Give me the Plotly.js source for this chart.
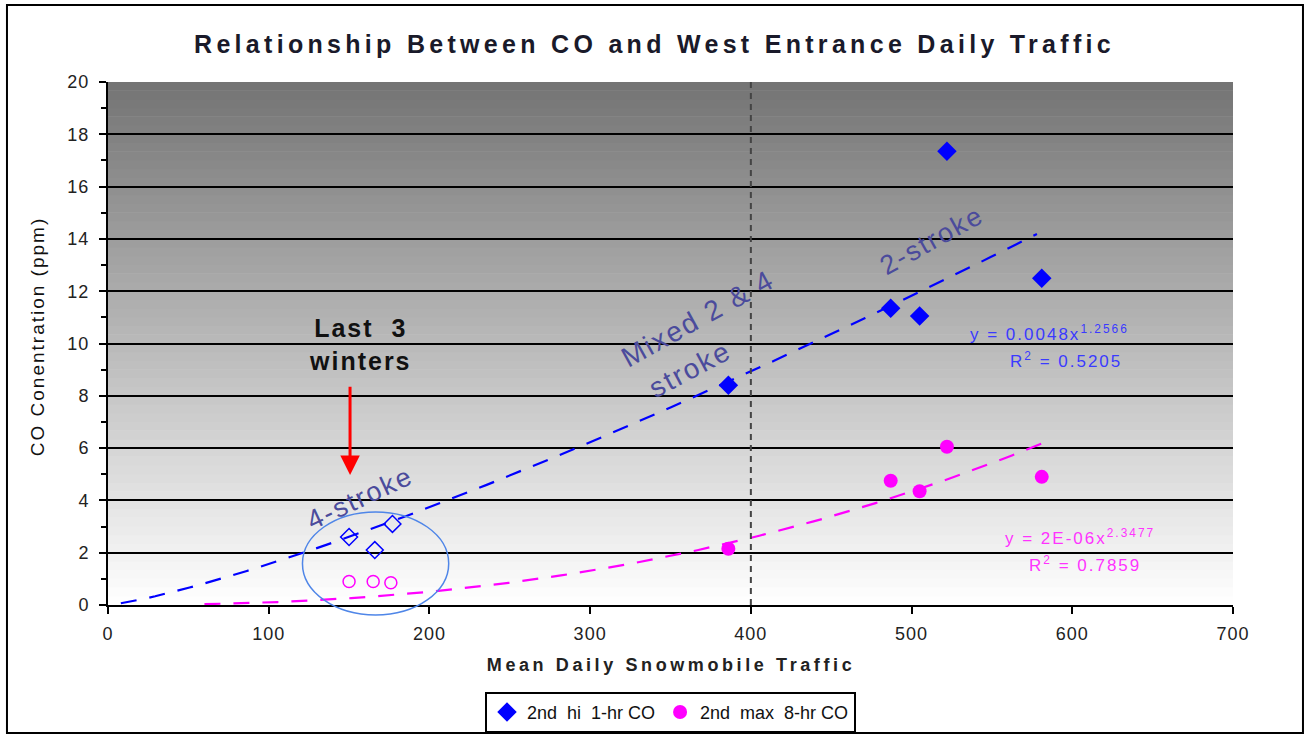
<!DOCTYPE html>
<html>
<head>
<meta charset="utf-8">
<script src="https://cdn.plot.ly/plotly-3.0.1.min.js"></script>
<style>
  html, body { margin: 0; padding: 0; background: #fff; }
  #chart { width: 1309px; height: 739px; }
  /* the reference uses wide, Excel-style letter spacing */
  #chart .gtitle { letter-spacing: 4.3px; }
  #chart .annotation-text { letter-spacing: 2px; }
  #chart .annotation[data-index="10"] .annotation-text { letter-spacing: 3.6px; }
  #chart .xtick text, #chart .ytick text { letter-spacing: 1px; }
</style>
</head>
<body>
<div id="chart"></div>
<script>
// ---- data ----
const hiTraffic = [386, 487, 505, 522, 581];
const hi1hrCO = [8.4, 11.35, 11.05, 17.35, 12.5];
const max8hrCO = [2.15, 4.75, 4.35, 6.05, 4.9];

// last 3 winters (4-stroke), open markers
const recentTraffic1hr = [150, 166, 177];
const recent1hrCO = [2.6, 2.1, 3.1];
const recentTraffic8hr = [150, 165, 176];
const recent8hrCO = [0.9, 0.9, 0.85];

// power trendlines shown on the chart: y = a * x^b
const trend1hr = { a: 0.0048, b: 1.2566, from: 8, to: 578, r2: 0.5205 };
const trend8hr = { a: 2e-6, b: 2.3477, from: 60, to: 582, r2: 0.7859 };

const yTicks = [0, 2, 4, 6, 8, 10, 12, 14, 16, 18, 20];
const xTicks = [0, 100, 200, 300, 400, 500, 600, 700];

const FONT = 'Liberation Sans, Arial, sans-serif';
const BLUE = '#0000ff';
const MAGENTA = '#ff00ff';
const LABEL = '#4b4b9c';

function trendCurve(t) {
  const xs = [], ys = [];
  const n = 80;
  for (let i = 0; i <= n; i++) {
    const x = t.from + (t.to - t.from) * i / n;
    xs.push(x);
    ys.push(t.a * Math.pow(x, t.b));
  }
  return { xs, ys };
}

const c1 = trendCurve(trend1hr);
const c8 = trendCurve(trend8hr);

const traces = [
  {
    type: 'scatter', mode: 'lines', x: c1.xs, y: c1.ys, showlegend: false, hoverinfo: 'skip',
    line: { color: BLUE, width: 2.2, dash: '16px,13px' },
  },
  {
    type: 'scatter', mode: 'lines', x: c8.xs, y: c8.ys, showlegend: false, hoverinfo: 'skip',
    line: { color: MAGENTA, width: 2.2, dash: '16px,13px' },
  },
  {
    type: 'scatter', mode: 'markers', x: recentTraffic1hr, y: recent1hrCO, showlegend: false,
    marker: { symbol: 'diamond-open', color: BLUE, size: 13, line: { width: 1.5 } },
  },
  {
    type: 'scatter', mode: 'markers', x: recentTraffic8hr, y: recent8hrCO, showlegend: false,
    marker: { symbol: 'circle-open', color: MAGENTA, size: 12, line: { width: 1.5 } },
  },
  {
    type: 'scatter', mode: 'markers', name: '2nd  hi  1-hr CO', x: hiTraffic, y: hi1hrCO,
    marker: { symbol: 'diamond', color: BLUE, size: 15 },
  },
  {
    type: 'scatter', mode: 'markers', name: '2nd  max  8-hr CO', x: hiTraffic, y: max8hrCO,
    marker: { symbol: 'circle', color: MAGENTA, size: 14 },
  },
];

// grey-to-white gradient behind the plot area
const shapes = [];
const bands = 60;
for (let i = 0; i < bands; i++) {
  const t = (i + 0.5) / bands;           // 0 at bottom, 1 at top
  const v = Math.round(255 - t * 140);
  shapes.push({
    type: 'rect', xref: 'x', yref: 'y', layer: 'below',
    x0: 0, x1: 700, y0: 20 * i / bands, y1: 20 * (i + 1) / bands + 0.02,
    fillcolor: `rgb(${v},${v},${v})`, line: { width: 0 },
  });
}
shapes.push(
  { type: 'line', xref: 'x', yref: 'y', x0: 400, x1: 400, y0: 0, y1: 20,
    line: { color: '#444', width: 2, dash: '6px,5px' } },
  { type: 'circle', xref: 'x', yref: 'paper', x0: 121, x1: 212, y0: -0.019, y1: 0.178,
    line: { color: '#4f86e8', width: 1.5 } },
  { type: 'rect', xref: 'paper', yref: 'paper', x0: -0.0898, x1: 1.0622, y0: -0.2447, y1: 1.1472,
    line: { color: '#000', width: 2 } }
);

const annotations = [
  { x: 157, y: 9.95, text: '<b>Last  3<br>winters</b>', showarrow: false,
    font: { family: FONT, size: 25, color: '#111' } },
  { x: 150.6, y: 4.97, ax: 150.6, ay: 8.4, axref: 'x', ayref: 'y', text: '',
    showarrow: true, arrowhead: 2, arrowsize: 1.3, arrowwidth: 3, arrowcolor: '#ff0000' },
  { x: 157, y: 4.1, text: '4-stroke', textangle: -25, showarrow: false,
    font: { family: FONT, size: 27, color: LABEL } },
  { x: 367, y: 10.95, text: 'Mixed 2 &amp; 4', textangle: -29, showarrow: false,
    font: { family: FONT, size: 28, color: LABEL } },
  { x: 362, y: 9.0, text: 'stroke', textangle: -28, showarrow: false,
    font: { family: FONT, size: 28, color: LABEL } },
  { x: 513, y: 13.95, text: '2-stroke', textangle: -29, showarrow: false,
    font: { family: FONT, size: 27, color: LABEL } },
  { x: 586, y: 10.4, text: `y = ${trend1hr.a}x<sup>${trend1hr.b}</sup>`, showarrow: false,
    font: { family: FONT, size: 17, color: '#3a3aff' } },
  { x: 596, y: 9.37, text: `R<sup>2</sup> = ${trend1hr.r2}`, showarrow: false,
    font: { family: FONT, size: 17, color: '#3a3aff' } },
  { x: 605, y: 2.6, text: `y = 2E-06x<sup>${trend8hr.b}</sup>`, showarrow: false,
    font: { family: FONT, size: 17, color: '#ff33ff' } },
  { x: 608, y: 1.57, text: `R<sup>2</sup> = ${trend8hr.r2}`, showarrow: false,
    font: { family: FONT, size: 17, color: '#ff33ff' } },
  // axis titles placed by hand so they do not push the plot area
  { xref: 'paper', yref: 'paper', x: 0.5, y: -0.1147, xanchor: 'center', yanchor: 'middle',
    text: '<b>Mean Daily Snowmobile Traffic</b>', showarrow: false,
    font: { family: FONT, size: 18, color: '#222' } },
  { xref: 'paper', yref: 'paper', x: -0.0631, y: 0.512, xanchor: 'center', yanchor: 'middle',
    textangle: -90, text: 'CO Conentration (ppm)', showarrow: false,
    font: { family: FONT, size: 19, color: '#111' } },
];

const layout = {
  width: 1309, height: 739,
  margin: { l: 108, r: 76, t: 82, b: 134, autoexpand: false },
  paper_bgcolor: '#fff',
  plot_bgcolor: 'rgba(0,0,0,0)',
  font: { family: FONT, size: 18, color: '#222' },
  title: {
    text: '<b>Relationship Between CO and West Entrance Daily Traffic</b>',
    x: 0.5, xanchor: 'center', y: 0.94, yanchor: 'middle',
    font: { family: FONT, size: 25, color: '#1a1a2a' },
  },
  xaxis: {
    range: [0, 700], tickvals: xTicks, ticks: 'outside', ticklen: 7, tickwidth: 2, tickcolor: '#000',
    ticklabelstandoff: 4,
    showline: true, linecolor: '#000', linewidth: 2, showgrid: false, zeroline: false,
    tickfont: { size: 18 },
  },
  yaxis: {
    range: [0, 20], tickvals: yTicks, ticks: 'outside', ticklen: 7, tickwidth: 2, tickcolor: '#000',
    ticklabelstandoff: 6,
    minor: { dtick: 1, ticks: 'outside', ticklen: 5, tickwidth: 2, tickcolor: '#000', showgrid: false },
    showline: true, linecolor: '#000', linewidth: 2,
    showgrid: true, gridcolor: '#000', gridwidth: 2, zeroline: false,
    tickfont: { size: 18 },
  },
  showlegend: true,
  legend: {
    orientation: 'h', x: 0.5, xanchor: 'center', y: -0.166, yanchor: 'top',
    bgcolor: '#fff', bordercolor: '#000', borderwidth: 2,
    font: { family: FONT, size: 18, color: '#111' },
    itemwidth: 30,
  },
  shapes, annotations,
};

Plotly.newPlot('chart', traces, layout, { displayModeBar: false, staticPlot: true });
</script>
</body>
</html>
